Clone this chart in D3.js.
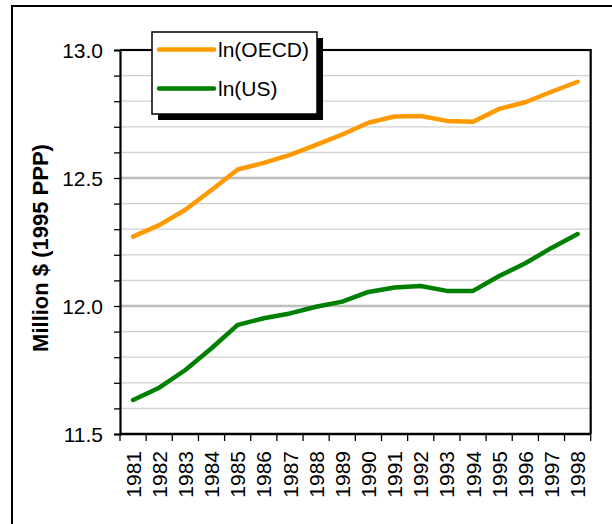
<!DOCTYPE html>
<html lang="en">
<head>
    <meta charset="UTF-8">
    <title>ln(OECD) vs ln(US)</title>
    <script src="https://d3js.org/d3.v7.min.js"></script>
    <style>
        body { margin: 0; background: #fff; }
        svg { display: block; font-family: "Liberation Sans", Arial, sans-serif; }
        .tick-label { font-size: 21px; fill: #000; }
        .axis-title { font-size: 22px; font-weight: bold; }
        .legend-text { font-size: 21px; }
    </style>
</head>
<body>
    <svg width="612" height="524"></svg>
    <script>
        const years = ["1981","1982","1983","1984","1985","1986","1987","1988","1989",
                       "1990","1991","1992","1993","1994","1995","1996","1997","1998"];
        const oecd = [12.271, 12.316, 12.376, 12.453, 12.533, 12.559, 12.590, 12.629, 12.670,
                      12.716, 12.740, 12.742, 12.723, 12.720, 12.770, 12.796, 12.837, 12.876];
        const us = [11.633, 11.681, 11.750, 11.835, 11.926, 11.952, 11.971, 11.997, 12.017,
                    12.055, 12.072, 12.078, 12.059, 12.059, 12.117, 12.167, 12.227, 12.281];
        const seriesNames = ["ln(OECD)", "ln(US)"];
        const seriesColors = ["#FF9900", "#008000"];
        const yTicks = [11.5, 12.0, 12.5, 13.0];

        const margin = { top: 50, left: 120 };
        const width = 470.7;
        const height = 384;

        const svg = d3.select("svg");

        // outer frame (runs off the right and bottom edges)
        svg.append("rect")
            .attr("x", 12).attr("y", 6)
            .attr("width", 700).attr("height", 600)
            .attr("fill", "none").attr("stroke", "#000").attr("stroke-width", 2);

        const g = svg.append("g")
            .attr("transform", `translate(${margin.left},${margin.top})`);

        const x = d3.scaleBand().domain(years).range([0, width]);
        const y = d3.scaleLinear().domain([11.5, 13.0]).range([height, 0]);

        // gridlines every 0.1, heavier on the labelled values
        const minor = d3.range(11.6, 13.0, 0.1).map(v => +v.toFixed(1));
        const isMajor = d => Math.abs(d * 2 - Math.round(d * 2)) < 1e-6;
        g.selectAll(".grid")
            .data(minor)
            .enter().append("line")
            .attr("x1", 0).attr("x2", width)
            .attr("y1", d => y(d)).attr("y2", d => y(d))
            .attr("stroke", d => isMajor(d) ? "#bdbdbd" : "#d0d0d0")
            .attr("stroke-width", d => isMajor(d) ? 2.5 : 1.2);

        // plot border top/right
        g.append("path")
            .attr("d", `M0,0H${width}V${height}`)
            .attr("fill", "none").attr("stroke", "#000").attr("stroke-width", 2.2);

        // y axis
        const yAxis = g.append("g")
            .call(d3.axisLeft(y)
                .tickValues(d3.range(11.5, 13.01, 0.1).map(v => +v.toFixed(1)))
                .tickSize(6)
                .tickFormat(d => yTicks.includes(d) ? d.toFixed(1) : ""));
        yAxis.select(".domain").attr("stroke-width", 2.2);
        yAxis.selectAll("line").attr("stroke-width", 1.3);
        yAxis.selectAll("text")
            .attr("class", "tick-label")
            .attr("x", -17)
            .attr("dy", "0.36em")
            .attr("font-family", null).attr("font-size", null);

        // x axis: ticks on category boundaries
        const xAxis = g.append("g").attr("transform", `translate(0,${height})`);
        xAxis.append("line")
            .attr("x1", 0).attr("x2", width)
            .attr("stroke", "#000").attr("stroke-width", 2.6);
        const bounds = years.map(d => x(d)).concat([width]);
        xAxis.selectAll(".xtick")
            .data(bounds)
            .enter().append("line")
            .attr("x1", d => d).attr("x2", d => d)
            .attr("y1", 0).attr("y2", 7)
            .attr("stroke", "#000").attr("stroke-width", 1.3);
        xAxis.selectAll(".xlabel")
            .data(years)
            .enter().append("text")
            .attr("class", "tick-label")
            .attr("transform", d => `translate(${x(d) + x.bandwidth() / 2},17) rotate(-90)`)
            .attr("text-anchor", "end")
            .attr("dy", "0.36em")
            .text(d => d);

        // lines
        const line = d3.line()
            .x((d, i) => x(years[i]) + x.bandwidth() / 2)
            .y(d => y(d));
        [oecd, us].forEach((s, i) => {
            g.append("path")
                .datum(s)
                .attr("d", line)
                .attr("fill", "none")
                .attr("stroke", seriesColors[i])
                .attr("stroke-width", 4.5)
                .attr("stroke-linecap", "round")
                .attr("stroke-linejoin", "round");
        });

        // y axis title
        svg.append("text")
            .attr("class", "axis-title")
            .attr("transform", "translate(48,248) rotate(-90)")
            .attr("text-anchor", "middle")
            .text("Million $ (1995 PPP)");

        // legend with drop shadow
        const lg = svg.append("g").attr("transform", "translate(152,32)");
        lg.append("rect")
            .attr("x", 6).attr("y", 6).attr("width", 165).attr("height", 82)
            .attr("fill", "#000");
        lg.append("rect")
            .attr("width", 165).attr("height", 82)
            .attr("fill", "#fff").attr("stroke", "#000").attr("stroke-width", 1.5);
        seriesNames.forEach((name, i) => {
            lg.append("line")
                .attr("x1", 7).attr("x2", 62)
                .attr("y1", 17.5 + i * 39).attr("y2", 17.5 + i * 39)
                .attr("stroke", seriesColors[i]).attr("stroke-width", 4.5)
                .attr("stroke-linecap", "round");
            lg.append("text")
                .attr("class", "legend-text")
                .attr("x", 66).attr("y", 17.5 + i * 39)
                .attr("dy", "0.36em")
                .text(name);
        });
    </script>
</body>
</html>
